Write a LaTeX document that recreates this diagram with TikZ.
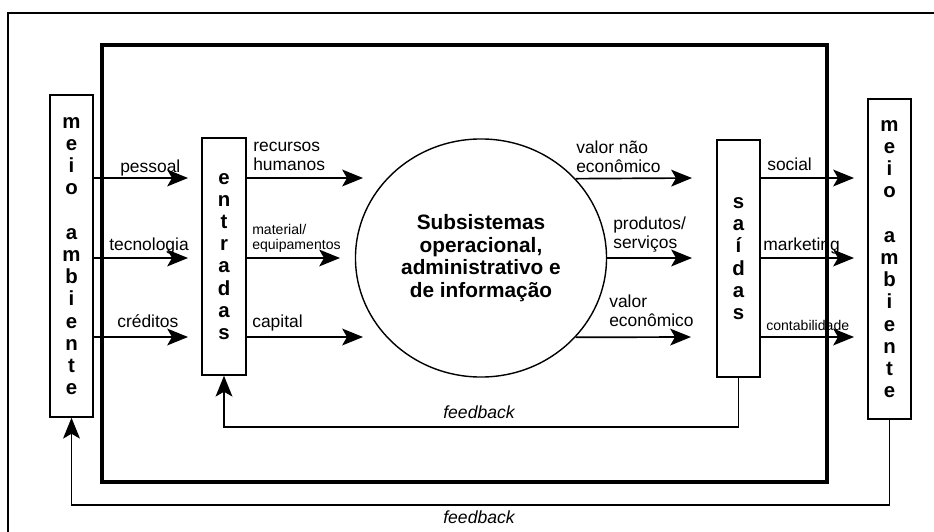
\documentclass[tikz,border=0pt]{standalone}
\usepackage{fontspec}
\setmainfont{Liberation Sans}
\usetikzlibrary{shapes.geometric,arrows.meta}

\begin{document}
\begin{tikzpicture}[x=0.025cm,y=-0.025cm,
  vbox/.style={draw,line width=1pt,inner sep=0pt,minimum width=1.075cm,align=center,font=\bfseries\fontsize{14.5}{15.8}\selectfont},
  lbl/.style={inner sep=0pt,anchor=base west,align=left,font=\fontsize{12.4}{13}\selectfont},
  lbls/.style={lbl,font=\fontsize{10}{10.6}\selectfont},
  arr/.style={line width=1.2pt,-{Stealth[length=0.52cm,width=0.42cm,inset=0.12cm]}},
  fb/.style={inner sep=0pt,anchor=base,font=\itshape\fontsize{12.5}{15}\selectfont}]

\useasboundingbox (0,0) rectangle (934,532);
\draw[line width=1.4pt] (8,532) -- (8,13) -- (934,13);
\draw[line width=2.8pt] (102,45) rectangle (827,482);

\node[vbox,minimum height=8.05cm](meioL) at (71.5,256) {m\\e\\i\\o\\[15.8pt]a\\m\\b\\i\\e\\n\\t\\e};
\node[vbox,minimum width=1.1cm,minimum height=5.925cm](entr) at (224,256.5) {e\\n\\t\\r\\a\\d\\a\\s};
\node[draw,ellipse,line width=1pt,minimum width=6.275cm,minimum height=5.95cm,inner sep=0pt,align=center,font=\bfseries\fontsize{14.8}{16.1}\selectfont](circ) at (481,258) {Subsistemas\\operacional,\\administrativo e\\de informação};
\node[vbox,minimum height=5.925cm](said) at (738.5,258.5) {s\\a\\í\\d\\a\\s};
\node[vbox,minimum height=8cm](meioR) at (889.5,259) {m\\e\\i\\o\\[15.8pt]a\\m\\b\\i\\e\\n\\t\\e};

\node[lbl](pessoal) at (120,172) {pessoal};
\node[lbl](tecno) at (109,250) {tecnologia};
\node[lbl](cred) at (117,327) {créditos};
\node[lbl](rh) at (253,170) {recursos\\humanos};
\node[lbls](mat) at (252,249) {material/\\equipamentos};
\node[lbl](cap) at (252,327) {capital};
\node[lbl](vne) at (576,172) {valor não\\econômico};
\node[lbl](prod) at (613,248) {produtos/\\serviços};
\node[lbl](ve) at (609,326) {valor\\econômico};
\node[lbl](soc) at (767,170) {social};
\node[lbl](mkt) at (763,250) {marketing};
\node[lbls](cont) at (766,330) {contabilidade};
\node[fb](fbin) at (479,418) {feedback};
\node[fb](fbout) at (479,523) {feedback};

\foreach \r/\y in {1/178,2/258,3/337}{
  \coordinate (r\r) at (0,\y);
  \coordinate (a\r) at (188,\y);
  \coordinate (d\r) at (854,\y);
}
\coordinate (b1) at (363,178);
\coordinate (b2) at (340,258);
\coordinate (b3) at (363,337);
\coordinate (c1) at (692,178);
\coordinate (c2) at (692,258);
\coordinate (c3) at (691,337);
\coordinate (fbi) at (0,427);
\coordinate (fbo) at (0,505);

\foreach \r in {1,2,3}{
  \draw[arr](meioL.east|-r\r)--(a\r);
  \draw[arr](entr.east|-r\r)--(b\r);
  \draw[arr](said.east|-r\r)--(d\r);
}
\draw[arr](circ.40.7)--(c1);
\draw[arr](circ.east)--(c2);
\draw[arr](circ.-40.1)--(c3);

\draw[arr](said.south)--(said.south|-fbi)-|(entr.south);
\draw[arr](meioR.south)--(meioR.south|-fbo)-|(meioL.south);
\end{tikzpicture}
\end{document}
